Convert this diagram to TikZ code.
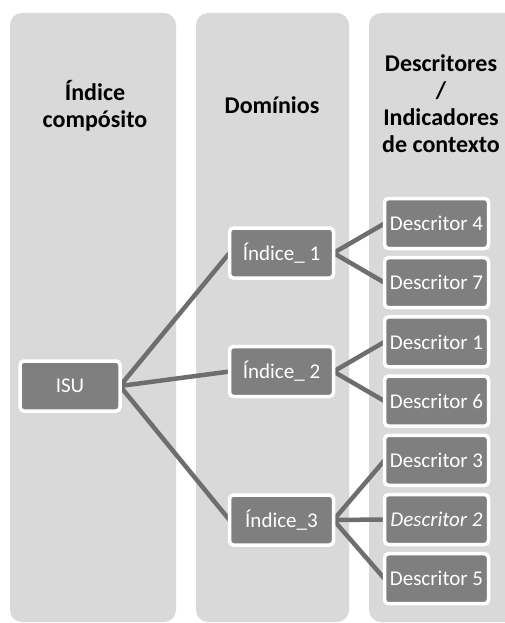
\documentclass[tikz,border=0pt]{standalone}
\usepackage{fontspec}
\setmainfont{Carlito}
\usepackage{tikz}
\usetikzlibrary{positioning,backgrounds}

\definecolor{colbg}{HTML}{D9D9D9}
\definecolor{boxfill}{HTML}{7F7F7F}
\definecolor{linkgray}{HTML}{6E6E6E}

\begin{document}
\begin{tikzpicture}[x=1pt,y=-1pt,
	column/.style={fill=colbg,rounded corners=12pt},
	header/.style={align=center,font=\fontsize{24}{27}\selectfont\bfseries},
	item/.style={draw=white,line width=3.5pt,fill=boxfill,rounded corners=4pt,
		minimum width=104pt,minimum height=50pt,inner sep=0pt,outer sep=0pt,
		text=white,font=\fontsize{21}{24}\selectfont},
	link/.style={draw=linkgray,line width=4.5pt}]
			\useasboundingbox (0,0) rectangle (505,623);
			% column headers
			\node[header] (h_1) at (95,106) {Índice\\compósito};
			\node[header] (h_2) at (272,105) {Domínios};
			\node[header] (h_3) at (441,104) {Descritores\\/\\Indicadores\\de contexto};
			% composite index and domains
			\node[item,minimum width=100pt] (isu) at (70,386) {ISU};
			\node[item] (ind_1) at (281.5,253) {Índice\_ 1};
			\node[item] (ind_2) at (281.5,371.5) {Índice\_ 2};
			\node[item] (ind_3) at (281.5,520) {Índice\_3};
			% descriptors
			\node[item] (d_4) at (436.5,223.5) {Descritor 4};
			\node[item] [below=9.2pt of d_4] (d_7) {Descritor 7};
			\node[item] [below=9.2pt of d_7] (d_1) {Descritor 1};
			\node[item] [below=9.2pt of d_1] (d_6) {Descritor 6};
			\node[item] [below=9.2pt of d_6] (d_3) {Descritor 3};
			\node[item] [below=9.2pt of d_3] (d_2) {\itshape Descritor 2};
			\node[item] [below=9.2pt of d_2] (d_5) {Descritor 5};
			\begin{scope}[on background layer]
				\clip (0,0) rectangle (505,623);
				\path[column] (10,13) rectangle (176,622);
				\path[column] (196,13) rectangle (349,622);
				\path[column] (369,13) rectangle (530,622);
				\path[link]
					(isu.east) -- (ind_1.west)
					(isu.east) -- (ind_2.west)
					(isu.east) -- (ind_3.west)
					(ind_1.east) -- (d_4.west)
					(ind_1.east) -- (d_7.west)
					(ind_2.east) -- (d_1.west)
					(ind_2.east) -- (d_6.west)
					(ind_3.east) -- (d_3.west)
					(ind_3.east) -- (d_2.west)
					(ind_3.east) -- (d_5.west);
			\end{scope}
		\end{tikzpicture}
\end{document}
